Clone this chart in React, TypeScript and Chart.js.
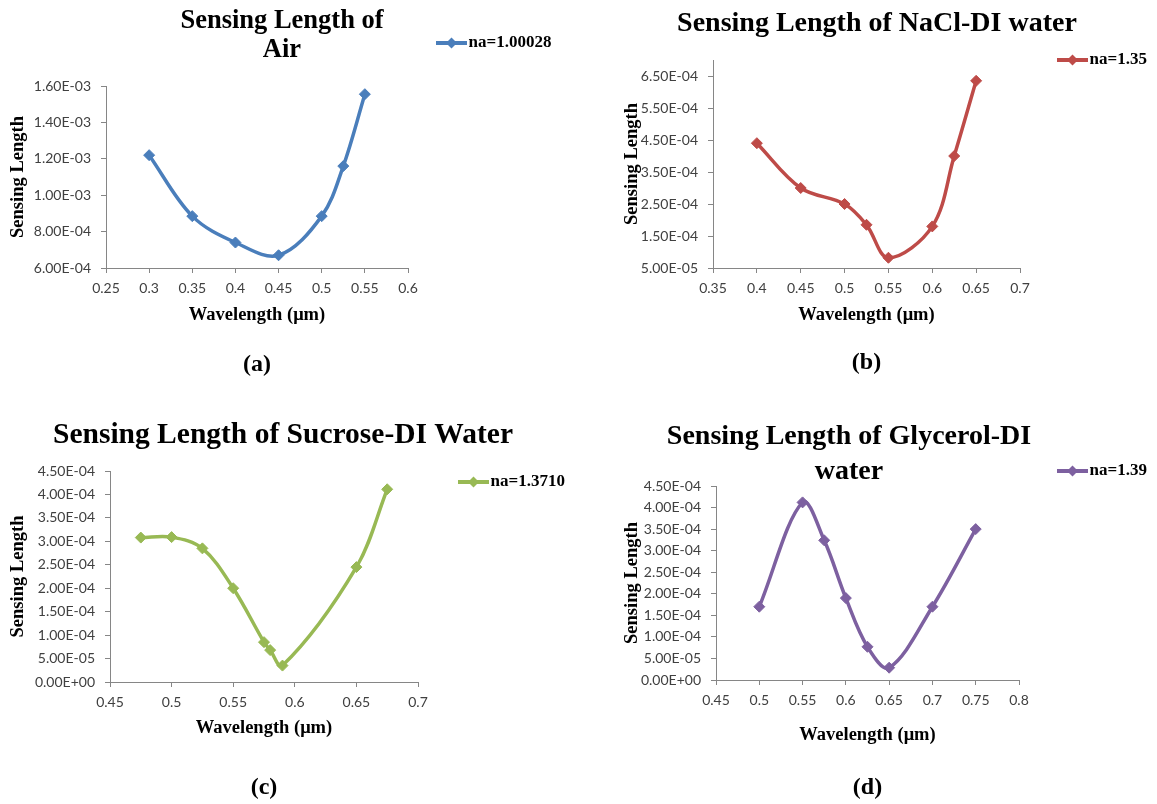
import React, { useEffect, useRef } from 'react';
import { Chart, registerables } from 'chart.js';

Chart.register(...registerables);

const SERIF = '"Liberation Serif", "Times New Roman", serif';
const SANS = 'Lato, "Liberation Sans", sans-serif';

// ---------- (a) Air ----------
const airTitle = ['Sensing Length of', 'Air'];
const airLegend = 'na=1.00028';
const airWavelength = [0.3, 0.35, 0.4, 0.45, 0.5, 0.525, 0.55];
const airLength = [1.22e-3, 8.85e-4, 7.4e-4, 6.7e-4, 8.85e-4, 1.16e-3, 1.555e-3];
const airXTicks = [0.25, 0.3, 0.35, 0.4, 0.45, 0.5, 0.55, 0.6];
const airYTicks = [6e-4, 8e-4, 1e-3, 1.2e-3, 1.4e-3, 1.6e-3];

// ---------- (b) NaCl-DI water ----------
const naclTitle = ['Sensing Length of NaCl-DI water'];
const naclLegend = 'na=1.35';
const naclWavelength = [0.4, 0.45, 0.5, 0.525, 0.55, 0.6, 0.625, 0.65];
const naclLength = [4.4e-4, 3.0e-4, 2.5e-4, 1.85e-4, 8.2e-5, 1.8e-4, 4.0e-4, 6.35e-4];
const naclXTicks = [0.35, 0.4, 0.45, 0.5, 0.55, 0.6, 0.65, 0.7];
const naclYTicks = [5e-5, 1.5e-4, 2.5e-4, 3.5e-4, 4.5e-4, 5.5e-4, 6.5e-4];

// ---------- (c) Sucrose-DI Water ----------
const sucroseTitle = ['Sensing Length of Sucrose-DI Water'];
const sucroseLegend = 'na=1.3710';
const sucroseWavelength = [0.475, 0.5, 0.525, 0.55, 0.575, 0.58, 0.59, 0.65, 0.675];
const sucroseLength = [3.08e-4, 3.09e-4, 2.85e-4, 2.0e-4, 8.5e-5, 6.8e-5, 3.5e-5, 2.45e-4, 4.11e-4];
const sucroseXTicks = [0.45, 0.5, 0.55, 0.6, 0.65, 0.7];
const sucroseYTicks = [0, 5e-5, 1e-4, 1.5e-4, 2e-4, 2.5e-4, 3e-4, 3.5e-4, 4e-4, 4.5e-4];

// ---------- (d) Glycerol-DI water ----------
const glycerolTitle = ['Sensing Length of Glycerol-DI', 'water'];
const glycerolLegend = 'na=1.39';
const glycerolWavelength = [0.5, 0.55, 0.575, 0.6, 0.625, 0.65, 0.7, 0.75];
const glycerolLength = [1.7e-4, 4.12e-4, 3.24e-4, 1.9e-4, 7.7e-5, 2.85e-5, 1.7e-4, 3.5e-4];
const glycerolXTicks = [0.45, 0.5, 0.55, 0.6, 0.65, 0.7, 0.75, 0.8];
const glycerolYTicks = [0, 5e-5, 1e-4, 1.5e-4, 2e-4, 2.5e-4, 3e-4, 3.5e-4, 4e-4, 4.5e-4];

const Y_TITLE = 'Sensing Length';
const X_TITLE = 'Wavelength (μm)';

const LEGEND_SIZE = 17;
const LEGEND_BOX = 24;
const LEGEND_LINE = 31;
const SUB_SIZE = 24;
const AXIS_SIZE = 18.5;
const TICK_SIZE = 14;
const AXIS_COLOR = '#868686';

type Panel = {
  x0: number; y0: number; w: number; h: number;
  L: number; R: number; T: number; B: number;
  title: string[]; titleSize: number; titleLH: number; titleCX: number; titleY: number;
  legend: string; legendX: number; legendY: number;
  yTitleX: number; xTitleY: number; sub: string; subY: number;
  color: string;
  xs: number[]; ys: number[]; xTicks: number[]; yTicks: number[];
  yMax: number;
};

const PANELS: Panel[] = [
  {
    x0: 0, y0: 0, w: 578, h: 400, L: 106, R: 408, T: 86, B: 268,
    title: airTitle, titleSize: 26.5, titleLH: 1.1, titleCX: 282, titleY: 21,
    legend: airLegend, legendX: 436, legendY: 43, yTitleX: 18, xTitleY: 315, sub: '(a)', subY: 365,
    color: '#4A7EBB', xs: airWavelength, ys: airLength, xTicks: airXTicks, yTicks: airYTicks, yMax: 1.6e-3,
  },
  {
    x0: 578, y0: 0, w: 579, h: 400, L: 713, R: 1020, T: 60, B: 268,
    title: naclTitle, titleSize: 28, titleLH: 1.15, titleCX: 877, titleY: 24,
    legend: naclLegend, legendX: 1057, legendY: 60, yTitleX: 632, xTitleY: 315, sub: '(b)', subY: 363,
    color: '#BE4B48', xs: naclWavelength, ys: naclLength, xTicks: naclXTicks, yTicks: naclYTicks, yMax: 7e-4,
  },
  {
    x0: 0, y0: 400, w: 578, h: 404, L: 110, R: 418, T: 471, B: 682,
    title: sucroseTitle, titleSize: 29.5, titleLH: 1.15, titleCX: 283, titleY: 435,
    legend: sucroseLegend, legendX: 458, legendY: 482, yTitleX: 18, xTitleY: 728, sub: '(c)', subY: 788,
    color: '#98B954', xs: sucroseWavelength, ys: sucroseLength, xTicks: sucroseXTicks, yTicks: sucroseYTicks, yMax: 4.5e-4,
  },
  {
    x0: 578, y0: 400, w: 579, h: 404, L: 716, R: 1019, T: 486, B: 680,
    title: glycerolTitle, titleSize: 28, titleLH: 1.25, titleCX: 849, titleY: 437,
    legend: glycerolLegend, legendX: 1057, legendY: 471, yTitleX: 632, xTitleY: 735, sub: '(d)', subY: 788,
    color: '#7D60A0', xs: glycerolWavelength, ys: glycerolLength, xTicks: glycerolXTicks, yTicks: glycerolYTicks, yMax: 4.5e-4,
  },
];

function sci(v: number): string {
  if (v === 0) return '0.00E+00';
  const [m, e] = v.toExponential(2).split('e');
  const n = parseInt(e, 10);
  return `${m}E${n < 0 ? '-' : '+'}${String(Math.abs(n)).padStart(2, '0')}`;
}

// Draws the Excel-style legend symbol: a line with a diamond marker in its middle.
const legendMarker = {
  id: 'legendMarker',
  afterDraw(chart: any) {
    const lg = chart.legend;
    if (!lg || !lg.legendHitBoxes || !lg.legendHitBoxes.length) return;
    const hb = lg.legendHitBoxes[0];
    const x = hb.left;
    const cy = hb.top + LEGEND_SIZE / 2;
    const cx = x + LEGEND_LINE / 2;
    const r = 5.5;
    const ctx = chart.ctx;
    ctx.save();
    const color = chart.data.datasets[0].borderColor;
    ctx.fillStyle = color;
    ctx.fillRect(x, cy - 2, LEGEND_LINE, 4);
    ctx.beginPath();
    ctx.moveTo(cx - r, cy);
    ctx.lineTo(cx, cy - r);
    ctx.lineTo(cx + r, cy);
    ctx.lineTo(cx, cy + r);
    ctx.closePath();
    ctx.fill();
    ctx.restore();
  },
};

function buildConfig(p: Panel, canvas: HTMLCanvasElement): any {
  const L = p.L - p.x0, R = p.R - p.x0, T = p.T - p.y0, B = p.B - p.y0;
  const mctx = canvas.getContext('2d')!;
  mctx.font = `bold ${LEGEND_SIZE}px ${SERIF}`;
  const tw = mctx.measureText(p.legend).width;
  const labelsPad = p.legendX - p.x0 - R;
  const legendW = labelsPad + LEGEND_BOX + LEGEND_SIZE / 2 + tw + 10;
  const padR = p.w - R - legendW;
  const padL = 2 * (p.titleCX - p.x0) - (p.w - padR);
  const yW = L - padL;
  const padT = p.legendY - p.y0 - labelsPad - LEGEND_SIZE / 2;
  const lhT = p.titleSize * p.titleLH;
  const tTop = p.titleY - p.y0 - padT - lhT / 2;
  const tBottom = T - padT - p.title.length * lhT - tTop;
  const lhS = SUB_SIZE * 1.2;
  const sBottom = p.h - (p.subY - p.y0) - lhS / 2;
  const xH = p.h - lhS - sBottom - B;
  const lhA = AXIS_SIZE * 1.2;
  const xtBottom = B + xH - (p.xTitleY - p.y0) - lhA / 2;
  const ytTop = p.yTitleX - p.x0 - padL - lhA / 2;

  const data = p.xs.map((x, i) => ({ x, y: p.ys[i] }));

  return {
    type: 'line',
    data: {
      datasets: [
        {
          label: p.legend,
          data,
          borderColor: p.color,
          backgroundColor: p.color,
          borderWidth: 3.5,
          tension: 0.35,
          fill: false,
          pointStyle: 'rectRot',
          pointRadius: 5.5,
          pointBackgroundColor: p.color,
          pointBorderColor: p.color,
          pointBorderWidth: 1,
        },
      ],
    },
    options: {
      responsive: false,
      animation: false,
      devicePixelRatio: 1,
      layout: { padding: { left: padL, right: padR, top: padT, bottom: 0 } },
      plugins: {
        tooltip: { enabled: false },
        title: {
          display: true,
          text: p.title,
          color: '#000',
          font: { family: SERIF, weight: 'bold', size: p.titleSize, lineHeight: p.titleLH },
          padding: { top: tTop, bottom: tBottom },
        },
        subtitle: {
          display: true,
          text: p.sub,
          position: 'bottom',
          fullSize: false,
          color: '#000',
          font: { family: SERIF, weight: 'bold', size: SUB_SIZE, lineHeight: 1.2 },
          padding: { top: 0, bottom: sBottom },
        },
        legend: {
          display: true,
          position: 'right',
          align: 'start',
          maxWidth: 1000,
          labels: {
            boxWidth: LEGEND_BOX,
            boxHeight: 4,
            padding: labelsPad,
            color: '#000',
            font: { family: SERIF, weight: 'bold', size: LEGEND_SIZE },
            generateLabels: (chart: any) =>
              (Chart.defaults.plugins.legend.labels.generateLabels as any)(chart).map((l: any) => ({
                ...l,
                lineWidth: 0,
                fillStyle: 'rgba(0,0,0,0)',
                strokeStyle: 'rgba(0,0,0,0)',
              })),
          },
        },
      },
      scales: {
        x: {
          type: 'linear',
          position: 'bottom',
          min: p.xTicks[0],
          max: p.xTicks[p.xTicks.length - 1],
          afterBuildTicks: (s: any) => { s.ticks = p.xTicks.map((value) => ({ value })); },
          afterFit: (s: any) => { s.height = xH; },
          grid: { display: true, drawOnChartArea: false, drawTicks: true, tickLength: 5, color: AXIS_COLOR },
          border: { display: true, color: AXIS_COLOR, width: 1 },
          ticks: {
            autoSkip: false,
            maxRotation: 0,
            padding: 7,
            color: '#404040',
            font: { family: SANS, size: TICK_SIZE },
            callback: (v: any) => String(Number(Number(v).toFixed(3))),
          },
          title: {
            display: true,
            text: X_TITLE,
            color: '#000',
            font: { family: SERIF, weight: 'bold', size: AXIS_SIZE, lineHeight: 1.2 },
            padding: { top: 0, bottom: xtBottom },
          },
        },
        y: {
          type: 'linear',
          position: 'left',
          min: p.yTicks[0],
          max: p.yMax,
          afterBuildTicks: (s: any) => { s.ticks = p.yTicks.map((value) => ({ value })); },
          afterFit: (s: any) => { s.width = yW; },
          grid: { display: true, drawOnChartArea: false, drawTicks: true, tickLength: 5, color: AXIS_COLOR },
          border: { display: true, color: AXIS_COLOR, width: 1 },
          ticks: {
            autoSkip: false,
            padding: 10,
            color: '#404040',
            font: { family: SANS, size: TICK_SIZE },
            callback: (v: any) => sci(Number(v)),
          },
          title: {
            display: true,
            text: Y_TITLE,
            color: '#000',
            font: { family: SERIF, weight: 'bold', size: AXIS_SIZE, lineHeight: 1.2 },
            padding: { top: ytTop, bottom: 0 },
          },
        },
      },
    },
    plugins: [legendMarker],
  };
}

function ChartPanel({ p }: { p: Panel }) {
  const ref = useRef<HTMLCanvasElement>(null);
  useEffect(() => {
    const canvas = ref.current;
    if (!canvas) return;
    const chart = new Chart(canvas, buildConfig(p, canvas));
    return () => chart.destroy();
  }, [p]);
  return (
    <canvas
      ref={ref}
      width={p.w}
      height={p.h}
      style={{ position: 'absolute', left: p.x0, top: p.y0, width: p.w, height: p.h }}
    />
  );
}

export default function App() {
  return (
    <div style={{ position: 'absolute', left: 0, top: 0, width: 1157, height: 804, background: '#fff', overflow: 'hidden' }}>
      {PANELS.map((p, i) => (
        <ChartPanel key={i} p={p} />
      ))}
    </div>
  );
}
